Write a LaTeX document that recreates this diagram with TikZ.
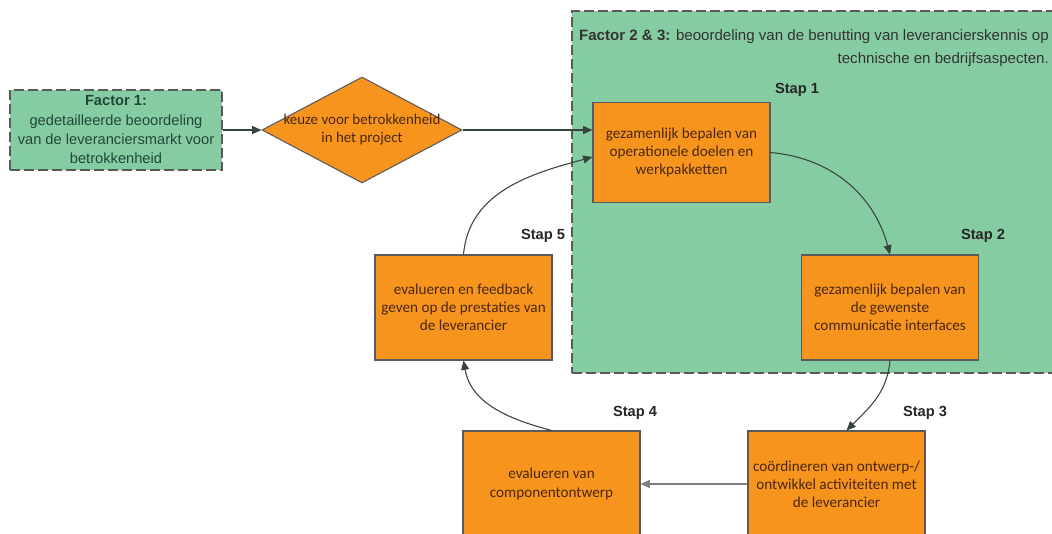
\documentclass[tikz,border=0pt]{standalone}
\usepackage{fontspec}
\setmainfont{Liberation Sans}
\newfontfamily\carlito{Carlito}
\usetikzlibrary{shapes.geometric,arrows.meta}

\definecolor{factorgroen}{RGB}{134,204,163}
\definecolor{staporanje}{RGB}{247,148,30}
\definecolor{randgrijs}{RGB}{90,90,90}
\definecolor{tekstbruin}{RGB}{74,40,16}
\definecolor{tekstgroen}{RGB}{32,72,56}
\definecolor{pijlgrijs}{RGB}{55,68,62}

\begin{document}
\begin{tikzpicture}[x=0.75pt,y=-0.75pt,
	stapbox/.style={draw=randgrijs, line width=0.8pt, fill=staporanje, text=tekstbruin, shape=rectangle, minimum width=132.75pt, align=center, font=\carlito\fontsize{11.4}{13.6}\selectfont},
	stapnaam/.style={text=black!85, font=\bfseries\fontsize{11}{13}\selectfont},
	factorvlak/.style={draw=randgrijs, dash pattern=on 7.5pt off 3pt, line width=1.5pt, fill=factorgroen, shape=rectangle},
	verbinding/.style={draw=pijlgrijs, line width=0.8pt, -{Triangle[length=7pt,width=6pt]}}]

	\clip (0,0) rectangle (1052,533);

	\node[factorvlak, minimum width=366pt, minimum height=271.5pt] (factor_23) at (816,192) {};
	\node[text=black!80, align=right, anchor=north east, inner sep=0pt, font=\fontsize{11.3}{17.2}\selectfont] (factor_23_tekst) at (1049,29) {\textbf{Factor 2 \& 3:} beoordeling van de benutting van leverancierskennis op\\technische en bedrijfsaspecten.};

	\node[factorvlak, minimum width=159pt, minimum height=60pt, text=tekstgroen, align=center, font=\fontsize{11}{14.5}\selectfont] (factor_1) at (116,130) {\textbf{Factor 1:}\\gedetailleerde beoordeling\\van de leveranciersmarkt voor\\betrokkenheid};

	\node[draw=randgrijs, line width=0.8pt, fill=staporanje, shape=diamond, inner sep=0pt, minimum width=150pt, minimum height=79.5pt, label={[text=tekstbruin, align=center, font=\carlito\fontsize{11.2}{13.5}\selectfont]center:keuze voor betrokkenheid\\in het project}] (keuze) at (362,130) {};

	\node[stapbox, minimum height=75pt] (stap_1) at (681.5,152.5) {gezamenlijk bepalen van\\operationele doelen en\\werkpakketten};
	\node[stapbox, minimum height=78.75pt] (stap_2) at (890,307.5) {gezamenlijk bepalen van\\de gewenste\\communicatie interfaces};
	\node[stapbox, minimum height=79.5pt] (stap_3) at (836.5,484) {coördineren van ontwerp-/\\ontwikkel activiteiten met\\de leverancier};
	\node[stapbox, minimum height=79.5pt] (stap_4) at (551.5,484) {evalueren van\\componentontwerp};
	\node[stapbox, minimum height=78.75pt] (stap_5) at (463.5,307.5) {evalueren en feedback\\geven op de prestaties van\\de leverancier};

	\node[stapnaam] (naam_1) at (797,90) {Stap 1};
	\node[stapnaam] (naam_2) at (983,236) {Stap 2};
	\node[stapnaam] (naam_3) at (925,413) {Stap 3};
	\node[stapnaam] (naam_4) at (635,413) {Stap 4};
	\node[stapnaam] (naam_5) at (543,236) {Stap 5};

	\draw[verbinding] (factor_1.east) -- (keuze.west);
	\draw[verbinding] (keuze.east) -- (keuze.east -| stap_1.west);
	\draw[verbinding] (stap_5.north) to[out=85,in=195] ([yshift=-3.4pt]stap_1.west);
	\draw[verbinding] (stap_1.east) to[out=-5,in=105] (stap_2.north);
	\draw[verbinding] (stap_2.south) to[out=-95,in=45] ([xshift=7.5pt]stap_3.north);
	\draw[verbinding, draw=gray] (stap_3.west) -- (stap_4.east);
	\draw[verbinding] (stap_4.north) to[out=165,in=-80] (stap_5.south);
\end{tikzpicture}
\end{document}
